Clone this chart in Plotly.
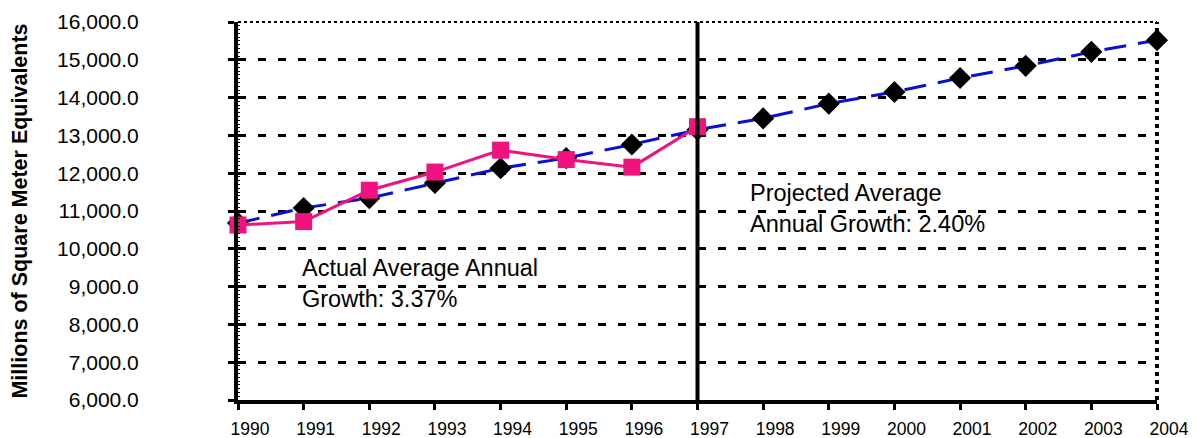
import plotly.graph_objects as go

years = list(range(1990, 2005))
actual_years = list(range(1990, 1998))
actual = [10630, 10720, 11550, 12030, 12610, 12360, 12160, 13230]
trend = [10680, 11080, 11340, 11740, 12130, 12400, 12760, 13150,
         13450, 13840, 14150, 14520, 14840, 15210, 15520]
y_ticks = list(range(6000, 17000, 1000))

font_name = "Liberation Sans, Arial, sans-serif"

fig = go.Figure()

# trend / projection line
fig.add_trace(go.Scatter(
    x=years, y=trend, mode="lines+markers", cliponaxis=False,
    line=dict(color="#0A10D0", width=3, dash="22px,12px"),
    marker=dict(symbol="diamond", size=17, color="black"),
    showlegend=False,
))

# actual values
fig.add_trace(go.Scatter(
    x=actual_years, y=actual, mode="lines+markers", cliponaxis=False,
    line=dict(color="#F0127F", width=3),
    marker=dict(symbol="square", size=17, color="#F0127F"),
    showlegend=False,
))

fig.update_xaxes(
    range=[1990, 2004], tickvals=years, tickformat="d",
    showline=True, linecolor="black", linewidth=4,
    ticks="outside", ticklen=6, tickwidth=3, tickcolor="black",
    showgrid=False, zeroline=False, automargin=False,
    tickfont=dict(family=font_name, size=17.5, color="black"),
    ticklabelshift=12, ticklabelstandoff=4,
)

fig.update_yaxes(
    range=[6000, 16000], tickvals=y_ticks, tickformat=",.1f",
    showline=True, linecolor="black", linewidth=4,
    ticks="outside", ticklen=6, tickwidth=3, tickcolor="black",
    minor=dict(ticks="inside", dtick=100, ticklen=2, tickwidth=1, tickcolor="black"),
    showgrid=True, gridcolor="black", gridwidth=3, griddash="8px,12px",
    zeroline=False, automargin=False,
    tickfont=dict(family=font_name, size=21, color="black"),
    ticklabelstandoff=85,
    title=dict(text="<b>Millions of Square Meter Equivalents</b>",
               font=dict(family=font_name, size=21.5, color="black"), standoff=26),
)

# second x axis on top of the first, only to get ticks crossing the axis line
fig.update_layout(xaxis2=dict(
    overlaying="x", matches="x", side="bottom", tickvals=years,
    ticks="inside", ticklen=6, tickwidth=3, tickcolor="black",
    showticklabels=False, showgrid=False, showline=False, zeroline=False,
    automargin=False,
))

# border top/right and the 1997 divider
fig.add_shape(type="line", xref="paper", yref="paper", x0=0, x1=1, y0=1, y1=1,
              line=dict(color="black", width=2, dash="dot"))
fig.add_shape(type="line", xref="paper", yref="paper", x0=1, x1=1, y0=0, y1=1,
              line=dict(color="black", width=4, dash="dot"))
fig.add_shape(type="line", xref="x", yref="paper", x0=1997, x1=1997, y0=0, y1=1,
              line=dict(color="black", width=4))

fig.add_annotation(x=1990.95, y=9900, xref="x", yref="y", xanchor="left", yanchor="top",
                   text="Actual Average Annual<br>Growth: 3.37%", align="left",
                   showarrow=False, font=dict(family=font_name, size=23.5, color="black"))
fig.add_annotation(x=1997.77, y=11880, xref="x", yref="y", xanchor="left", yanchor="top",
                   text="Projected Average<br>Annual Growth: 2.40%", align="left",
                   showarrow=False, font=dict(family=font_name, size=23.5, color="black"))

# page body keeps its 8px default margin, so the figure is sized to fit inside it
fig.update_layout(
    width=1191, height=430,
    margin=dict(l=230, r=42, t=14, b=38),
    plot_bgcolor="white", paper_bgcolor="white",
    font=dict(family=font_name, color="black"),
)

fig.write_html("out.html")
